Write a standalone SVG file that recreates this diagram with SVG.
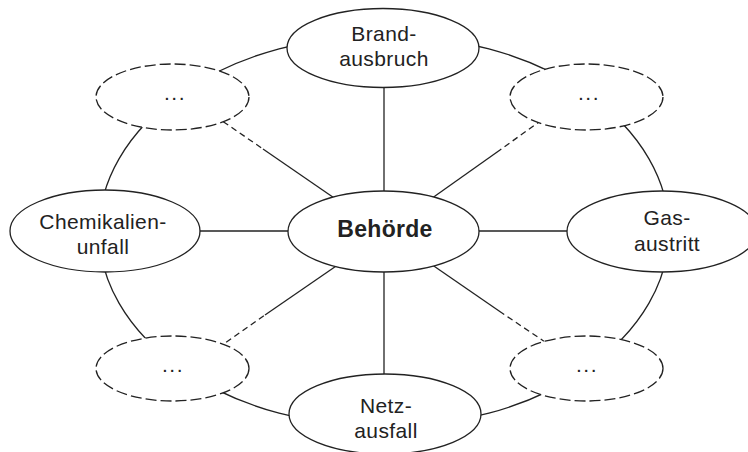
<svg xmlns="http://www.w3.org/2000/svg" width="748" height="452" viewBox="0 0 748 452">
<style>
.n{fill:#fff;stroke:#222;stroke-width:1.3}
.d{fill:#fff;stroke:#222;stroke-width:1.3;stroke-dasharray:11 4}
.l{fill:none;stroke:#222;stroke-width:1.3}
.ld{fill:none;stroke:#222;stroke-width:1.3;stroke-dasharray:6 4}
text{font-family:"Liberation Sans",Arial,sans-serif;font-size:21px;fill:#222;text-anchor:middle;letter-spacing:0.4px}
.b{font-weight:bold;font-size:23px;letter-spacing:0.3px}
.dt{letter-spacing:1.5px}
</style>
<rect width="748" height="452" fill="#fff"/>
<g id="connectors">
<ellipse class="l" cx="384" cy="231" rx="285" ry="196"/>
<line class="l" x1="384" y1="88" x2="384" y2="192"/>
<line class="l" x1="384" y1="271" x2="384" y2="375"/>
<line class="l" x1="199" y1="231" x2="289" y2="231"/>
<line class="l" x1="478" y1="231" x2="568" y2="231"/>
<line class="ld" x1="215" y1="116" x2="263" y2="149"/>
<line class="l" x1="263" y1="149" x2="340" y2="202"/>
<line class="ld" x1="550" y1="114" x2="500" y2="150"/>
<line class="l" x1="500" y1="150" x2="428" y2="201"/>
<line class="ld" x1="218" y1="348" x2="265" y2="315"/>
<line class="l" x1="265" y1="315" x2="342" y2="262"/>
<line class="ld" x1="554" y1="348" x2="502" y2="313"/>
<line class="l" x1="502" y1="313" x2="428" y2="262"/>
</g>
<g id="behoerde">
<ellipse class="n" cx="383.5" cy="231.5" rx="95.5" ry="40.5"/>
<text class="b" x="385" y="237">Behörde</text>
</g>
<g id="brandausbruch">
<ellipse class="n" cx="383" cy="48" rx="96" ry="39.5"/>
<text x="384" y="40.5">Brand-</text>
<text x="384" y="65.5">ausbruch</text>
</g>
<g id="chemikalienunfall">
<ellipse class="n" cx="105" cy="231" rx="95" ry="41"/>
<text x="103" y="229">Chemikalien-</text>
<text x="103" y="254">unfall</text>
</g>
<g id="gasaustritt">
<ellipse class="n" cx="662" cy="231.5" rx="95" ry="40.5"/>
<text x="667" y="225">Gas-</text>
<text x="667" y="251">austritt</text>
</g>
<g id="netzausfall">
<ellipse class="n" cx="385" cy="414" rx="96" ry="40"/>
<text x="386" y="413">Netz-</text>
<text x="386" y="438">ausfall</text>
</g>
<g id="dots-tl">
<ellipse class="d" cx="172.5" cy="97" rx="76.5" ry="33"/>
<text class="dt" x="175" y="100">...</text>
</g>
<g id="dots-tr">
<ellipse class="d" cx="586.5" cy="97" rx="76.5" ry="33"/>
<text class="dt" x="589" y="100">...</text>
</g>
<g id="dots-bl">
<ellipse class="d" cx="172.5" cy="368.5" rx="76.5" ry="32.5"/>
<text class="dt" x="173" y="372">...</text>
</g>
<g id="dots-br">
<ellipse class="d" cx="586.5" cy="368.5" rx="76.5" ry="32.5"/>
<text class="dt" x="587" y="372">...</text>
</g>
</svg>
